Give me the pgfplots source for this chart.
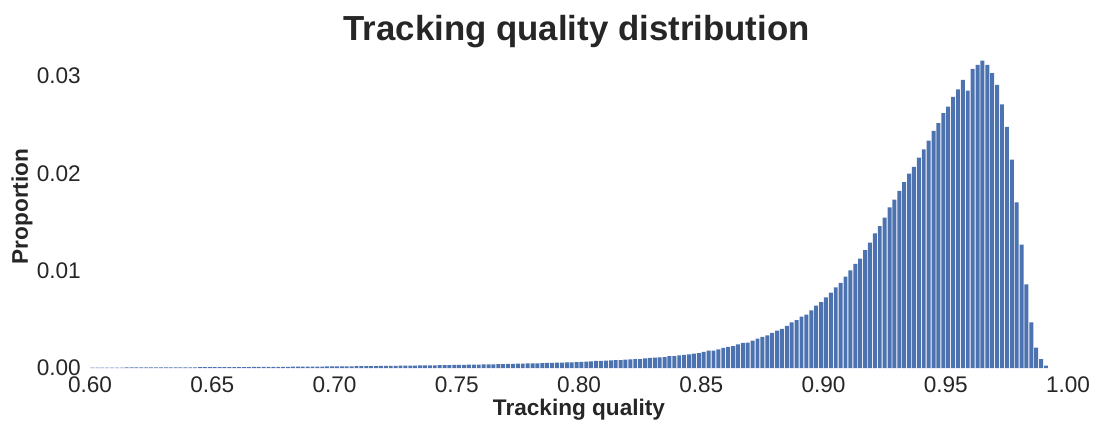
\documentclass[border=0pt]{standalone}
\usepackage{pgfplots}
\pgfplotsset{compat=1.18}
\usepackage{pgfplotstable}
\usepackage{fontspec}
\setmainfont{Liberation Sans}
\definecolor{sbblue}{HTML}{4C72B0}
\definecolor{txt}{HTML}{262626}

\pgfplotstableread{
x y
0.601 0.000043
0.603 0.000044
0.605 0.000046
0.607 0.000047
0.609 0.000048
0.611 0.000050
0.613 0.000051
0.615 0.000052
0.617 0.000054
0.619 0.000055
0.621 0.000057
0.623 0.000058
0.625 0.000060
0.627 0.000061
0.629 0.000063
0.631 0.000065
0.633 0.000067
0.635 0.000068
0.637 0.000070
0.639 0.000072
0.641 0.000074
0.643 0.000076
0.645 0.000078
0.647 0.000080
0.649 0.000082
0.651 0.000085
0.653 0.000087
0.655 0.000089
0.657 0.000092
0.659 0.000094
0.661 0.000097
0.663 0.000099
0.665 0.000102
0.667 0.000105
0.669 0.000107
0.671 0.000110
0.673 0.000113
0.675 0.000116
0.677 0.000119
0.679 0.000123
0.681 0.000126
0.683 0.000129
0.685 0.000133
0.687 0.000136
0.689 0.000140
0.691 0.000144
0.693 0.000148
0.695 0.000152
0.697 0.000156
0.699 0.000160
0.701 0.000164
0.703 0.000169
0.705 0.000173
0.707 0.000178
0.709 0.000183
0.711 0.000188
0.713 0.000193
0.715 0.000198
0.717 0.000203
0.719 0.000209
0.721 0.000214
0.723 0.000220
0.725 0.000226
0.727 0.000232
0.729 0.000238
0.731 0.000245
0.733 0.000251
0.735 0.000258
0.737 0.000265
0.739 0.000272
0.741 0.000280
0.743 0.000287
0.745 0.000295
0.747 0.000303
0.749 0.000311
0.751 0.000319
0.753 0.000328
0.755 0.000337
0.757 0.000346
0.759 0.000355
0.761 0.000364
0.763 0.000374
0.765 0.000384
0.767 0.000395
0.769 0.000405
0.771 0.000416
0.773 0.000427
0.775 0.000439
0.777 0.000451
0.779 0.000463
0.781 0.000475
0.783 0.000488
0.785 0.000501
0.787 0.000515
0.789 0.000529
0.791 0.000543
0.793 0.000557
0.795 0.000572
0.797 0.000588
0.799 0.000604
0.801 0.00062
0.803 0.00065
0.805 0.00068
0.807 0.00072
0.809 0.00072
0.811 0.00075
0.813 0.00079
0.815 0.00082
0.817 0.00082
0.819 0.00086
0.821 0.00089
0.823 0.00092
0.825 0.00092
0.827 0.00100
0.829 0.00103
0.831 0.00106
0.833 0.00110
0.835 0.00113
0.837 0.00123
0.839 0.00123
0.841 0.00130
0.843 0.00134
0.845 0.00141
0.847 0.00147
0.849 0.00154
0.851 0.00166
0.853 0.00178
0.855 0.00178
0.857 0.00192
0.859 0.00206
0.861 0.00216
0.863 0.00226
0.865 0.00243
0.867 0.00257
0.869 0.00260
0.871 0.00281
0.873 0.00302
0.875 0.00319
0.877 0.00336
0.879 0.00360
0.881 0.00384
0.883 0.00401
0.885 0.00432
0.887 0.00470
0.889 0.00493
0.891 0.00527
0.893 0.00548
0.895 0.00593
0.897 0.00640
0.899 0.00678
0.901 0.00726
0.903 0.00774
0.905 0.00829
0.907 0.00874
0.909 0.00938
0.911 0.01004
0.913 0.01069
0.915 0.01123
0.917 0.01210
0.919 0.01288
0.921 0.01384
0.923 0.01459
0.925 0.01545
0.927 0.01651
0.929 0.01730
0.931 0.01820
0.933 0.01910
0.935 0.01997
0.937 0.02066
0.939 0.02162
0.941 0.02247
0.943 0.02336
0.945 0.02436
0.947 0.02515
0.949 0.02618
0.951 0.02686
0.953 0.02785
0.955 0.02864
0.957 0.02960
0.959 0.02850
0.961 0.03073
0.963 0.03114
0.965 0.03158
0.967 0.03114
0.969 0.03029
0.971 0.02908
0.973 0.02710
0.975 0.02477
0.977 0.02141
0.979 0.01703
0.981 0.01267
0.983 0.00860
0.985 0.00470
0.987 0.00209
0.989 0.00092
0.991 0.00024
}\histdata

\begin{document}
\begin{tikzpicture}
\useasboundingbox (-90bp,-55bp) rectangle (1006bp,368bp);
\begin{axis}[
  at={(0,0)}, anchor=south west,
  scale only axis,
  width=978bp, height=323.1bp,
  xmin=0.6, xmax=1.0,
  ymin=0, ymax=0.0332,
  axis line style={draw=none},
  major tick length=0pt,
  xtick={0.60,0.65,0.70,0.75,0.80,0.85,0.90,0.95,1.00},
  ytick={0,0.01,0.02,0.03},
  scaled x ticks=false, scaled y ticks=false,
  xticklabel style={/pgf/number format/.cd, fixed, fixed zerofill, precision=2, assume math mode=true, /tikz/.cd,
     anchor=north, inner sep=0pt, yshift=-9bp},
  yticklabel style={/pgf/number format/.cd, fixed, fixed zerofill, precision=2, assume math mode=true, /tikz/.cd,
     anchor=east, inner sep=0pt, xshift=-9bp},
  tick label style={font=\fontsize{22.6bp}{26bp}\selectfont, text=txt},
  title={Tracking quality distribution},
  title style={font=\fontsize{34.8bp}{40bp}\selectfont\bfseries, text=txt,
     at={(0.4975,0.9966)}, anchor=base, inner sep=0pt},
  xlabel={Tracking quality},
  xlabel style={font=\fontsize{22.6bp}{26bp}\selectfont\bfseries, text=txt,
     at={(0.5,-0.1455)}, anchor=base, inner sep=0pt},
  ylabel={Proportion},
  every axis y label/.style={font=\fontsize{22.6bp}{26bp}\selectfont\bfseries, text=txt,
     at={(-0.0634,0.5)}, rotate=90, anchor=base, inner sep=0pt},
  clip=false,
]
\addplot[ybar, bar width=0.00162, bar shift=0pt, fill=sbblue, draw=none]
  table[x=x, y=y] {\histdata};
\end{axis}
\end{tikzpicture}
\end{document}
